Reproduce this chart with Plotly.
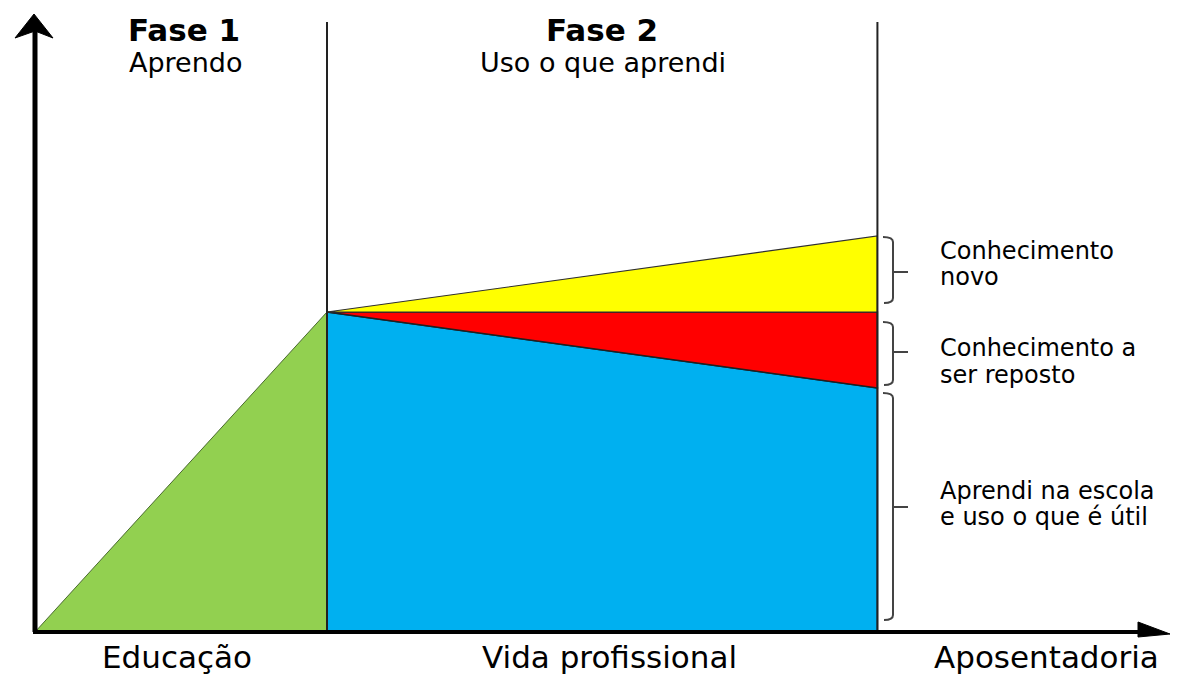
import plotly.graph_objects as go

# ---- data (arbitrary units) ----
phase_x = [0, 20, 57.7]            # start of education, end of education, retirement
knowledge_peak = 100               # knowledge at end of education
knowledge_new_end = 123.75         # with new knowledge at retirement
knowledge_kept_end = 76.25         # still useful school knowledge at retirement
phase_titles = ["Fase 1", "Fase 2"]
phase_subtitles = ["Aprendo", "Uso o que aprendi"]
period_labels = ["Educação", "Vida profissional", "Aposentadoria"]
brace_labels = [["Conhecimento", "novo"], ["Conhecimento a", "ser reposto"],
                ["Aprendi na escola", "e uso o que é útil"]]

W, H = 1178, 679
X0PX, Y0PX = 35, 632
SX, SY = 14.6, 3.2
def px2x(px): return (px - X0PX) / SX
def py2y(py): return (Y0PX - py) / SY

x0, x1, x2 = phase_x
fig = go.Figure()

def poly(xs, ys, fill, line_color, lw):
    fig.add_trace(go.Scatter(x=xs, y=ys, mode="lines", fill="toself",
                             fillcolor=fill, line=dict(color=line_color, width=lw),
                             hoverinfo="skip", showlegend=False))

# green: education
poly([x0, x1, x1, x0], [0, knowledge_peak, 0, 0], "#92D050", "#4a6a30", 1)
# blue: retained knowledge
poly([x1, x2, x2, x1, x1], [knowledge_peak, knowledge_kept_end, 0, 0, knowledge_peak], "#00B0F0", "#0a2a40", 1.5)
# red: knowledge to replace
poly([x1, x2, x2, x1], [knowledge_peak, knowledge_peak, knowledge_kept_end, knowledge_peak], "#FF0000", "#202020", 1.5)
# yellow: new knowledge
poly([x1, x2, x2, x1], [knowledge_peak, knowledge_new_end, knowledge_peak, knowledge_peak], "#FFFF00", "#303030", 1.2)

# phase separator lines
for xv in (x1, x2):
    fig.add_trace(go.Scatter(x=[xv, xv], y=[0, py2y(22)], mode="lines",
                             line=dict(color="#222", width=2), hoverinfo="skip", showlegend=False))

shapes = []
# axes
shapes.append(dict(type="line", xref="x", yref="y", x0=0, y0=0, x1=0, y1=py2y(30),
                   line=dict(color="black", width=5)))
shapes.append(dict(type="line", xref="x", yref="y", x0=px2x(33), y0=0, x1=px2x(1150), y1=0,
                   line=dict(color="black", width=4)))
def path(pts, closed=True):
    s = "M " + " L ".join(f"{px2x(a)},{py2y(b)}" for a, b in pts)
    return s + (" Z" if closed else "")
shapes.append(dict(type="path", xref="x", yref="y",
                   path=path([(34, 14), (53, 38), (35, 31), (15, 38)]),
                   fillcolor="black", line=dict(color="black", width=1)))
shapes.append(dict(type="path", xref="x", yref="y",
                   path=path([(1138, 622), (1170, 634), (1138, 637)]),
                   fillcolor="black", line=dict(color="black", width=1)))

# braces
def brace(top, bot, mid):
    xv = 893
    p = (f"M {px2x(883)},{py2y(top)} Q {px2x(893)},{py2y(top)} {px2x(xv)},{py2y(top+5)} "
         f"L {px2x(xv)},{py2y(bot-5)} Q {px2x(893)},{py2y(bot)} {px2x(884)},{py2y(bot)} "
         f"M {px2x(xv)},{py2y(mid)} L {px2x(908)},{py2y(mid)}")
    shapes.append(dict(type="path", xref="x", yref="y", path=p,
                       line=dict(color="#444", width=2)))
brace(237, 303, 272)
brace(322, 385, 352)
brace(393, 620, 507)

ann = []
font = "DejaVu Sans, sans-serif"
def txt(t, px, py, size, bold=False, anchor="center"):
    ann.append(dict(text=f"<b>{t}</b>" if bold else t, x=px / W, y=1 - py / H,
                    xref="paper", yref="paper", showarrow=False, xanchor=anchor,
                    yanchor="middle", align="left",
                    font=dict(family=font, size=size, color="black")))
txt(phase_titles[0], 184, 30, 31, True)
txt(phase_subtitles[0], 186, 62, 27)
txt(phase_titles[1], 602, 30, 31, True)
txt(phase_subtitles[1], 603, 62, 27)
txt(period_labels[0], 177, 657, 31)
txt(period_labels[1], 609, 657, 31)
txt(period_labels[2], 1046, 657, 31)
label_y = [(251, 277), (348, 375), (491, 517)]
for lines, ys in zip(brace_labels, label_y):
    for line, yy in zip(lines, ys):
        txt(line, 938, yy, 24, anchor="left")

fig.update_layout(
    width=W, height=H, margin=dict(l=0, r=0, t=0, b=0),
    paper_bgcolor="white", plot_bgcolor="white",
    xaxis=dict(range=[px2x(0), px2x(W)], visible=False, fixedrange=True),
    yaxis=dict(range=[py2y(H), py2y(0)], visible=False, fixedrange=True),
    shapes=shapes, annotations=ann, showlegend=False,
)
fig.write_html("out.html", config={"displayModeBar": False},
               post_script="document.body.style.margin='0';document.body.style.overflow='hidden';")
